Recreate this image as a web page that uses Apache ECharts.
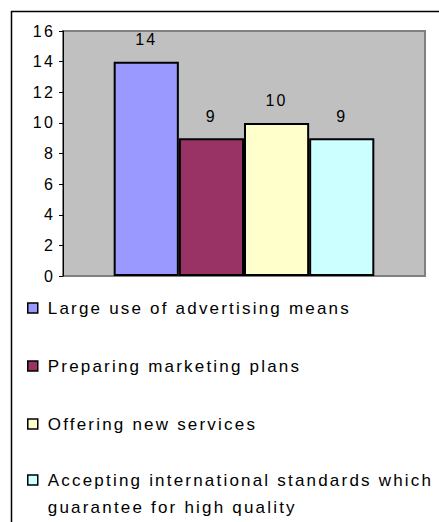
<!DOCTYPE html>
<html>
<head>
<meta charset="utf-8">
<style>
  html, body { margin: 0; padding: 0; background: #fff; }
  #chart { width: 439px; height: 522px; }
  /* spaced-out lettering of the original figure */
  #chart text { letter-spacing: 2.2px; }
</style>
<script src="https://cdn.jsdelivr.net/npm/echarts@6/dist/echarts.min.js"></script>
</head>
<body>
<div id="chart"></div>
<script>
// Survey answers: number of respondents per marketing measure
const seriesNames = [
  'Large use of advertising means',
  'Preparing marketing plans',
  'Offering new services',
  'Accepting international standards which guarantee for high quality'
];
const seriesValues = [14, 9, 10, 9];
const seriesColors = ['#9999FF', '#993366', '#FFFFCC', '#CCFFFF'];
const categories = [''];
const yTicks = { min: 0, max: 16, interval: 2 };

const FONT = 'Liberation Sans, Arial, sans-serif';

const chart = echarts.init(document.getElementById('chart'), null, { renderer: 'svg' });

const series = seriesNames.map((name, i) => ({
  name: name,
  type: 'bar',
  data: [seriesValues[i]],
  barGap: '0%',
  barCategoryGap: '28%',
  itemStyle: { color: seriesColors[i], borderColor: '#000', borderWidth: 2 },
  label: {
    show: true,
    position: 'top',
    distance: 14,
    color: '#000',
    fontSize: 16,
    fontFamily: FONT
  },
  emphasis: { disabled: true }
}));

const legendText = {
  color: '#000',
  fontSize: 17,
  fontFamily: FONT,
  lineHeight: 27,
  padding: [0, 0, 0, 5]
};

const legendBase = {
  orient: 'vertical',
  left: 27,
  padding: 0,
  itemWidth: 10,
  itemHeight: 10,
  icon: 'rect',
  itemStyle: { borderColor: '#000', borderWidth: 1.5 },
  textStyle: legendText,
  selectedMode: false
};

chart.setOption({
  animation: false,
  backgroundColor: '#fff',
  grid: {
    left: 63, top: 31, right: 14, bottom: 246,
    show: true,
    backgroundColor: '#C0C0C0',
    borderColor: '#808080',
    borderWidth: 2
  },
  xAxis: {
    type: 'category',
    data: categories,
    axisLine: { show: false },
    axisTick: { show: false },
    axisLabel: { show: false }
  },
  yAxis: {
    type: 'value',
    min: yTicks.min,
    max: yTicks.max,
    interval: yTicks.interval,
    splitLine: { show: false },
    axisLine: { show: true, lineStyle: { color: '#000', width: 1 } },
    axisTick: { show: true, length: 4, lineStyle: { color: '#000' } },
    axisLabel: { color: '#000', fontSize: 16, fontFamily: FONT, margin: 8 }
  },
  legend: [
    Object.assign({}, legendBase, {
      top: 294.5,
      itemGap: 31,
      data: seriesNames.slice(0, 3)
    }),
    Object.assign({}, legendBase, {
      // wrapped entry: an empty leading line keeps the swatch beside the first line
      top: 439.5,
      formatter: (name) => '\n' + name.replace(' guarantee', '\nguarantee'),
      data: [seriesNames[3]]
    })
  ],
  graphic: [
    { type: 'line', silent: true, shape: { x1: 11, y1: 11.5, x2: 439, y2: 11.5 }, style: { stroke: '#000', lineWidth: 1.5 } },
    { type: 'line', silent: true, shape: { x1: 11.5, y1: 11, x2: 11.5, y2: 522 }, style: { stroke: '#000', lineWidth: 1.5 } }
  ],
  series: series
});
</script>
</body>
</html>
